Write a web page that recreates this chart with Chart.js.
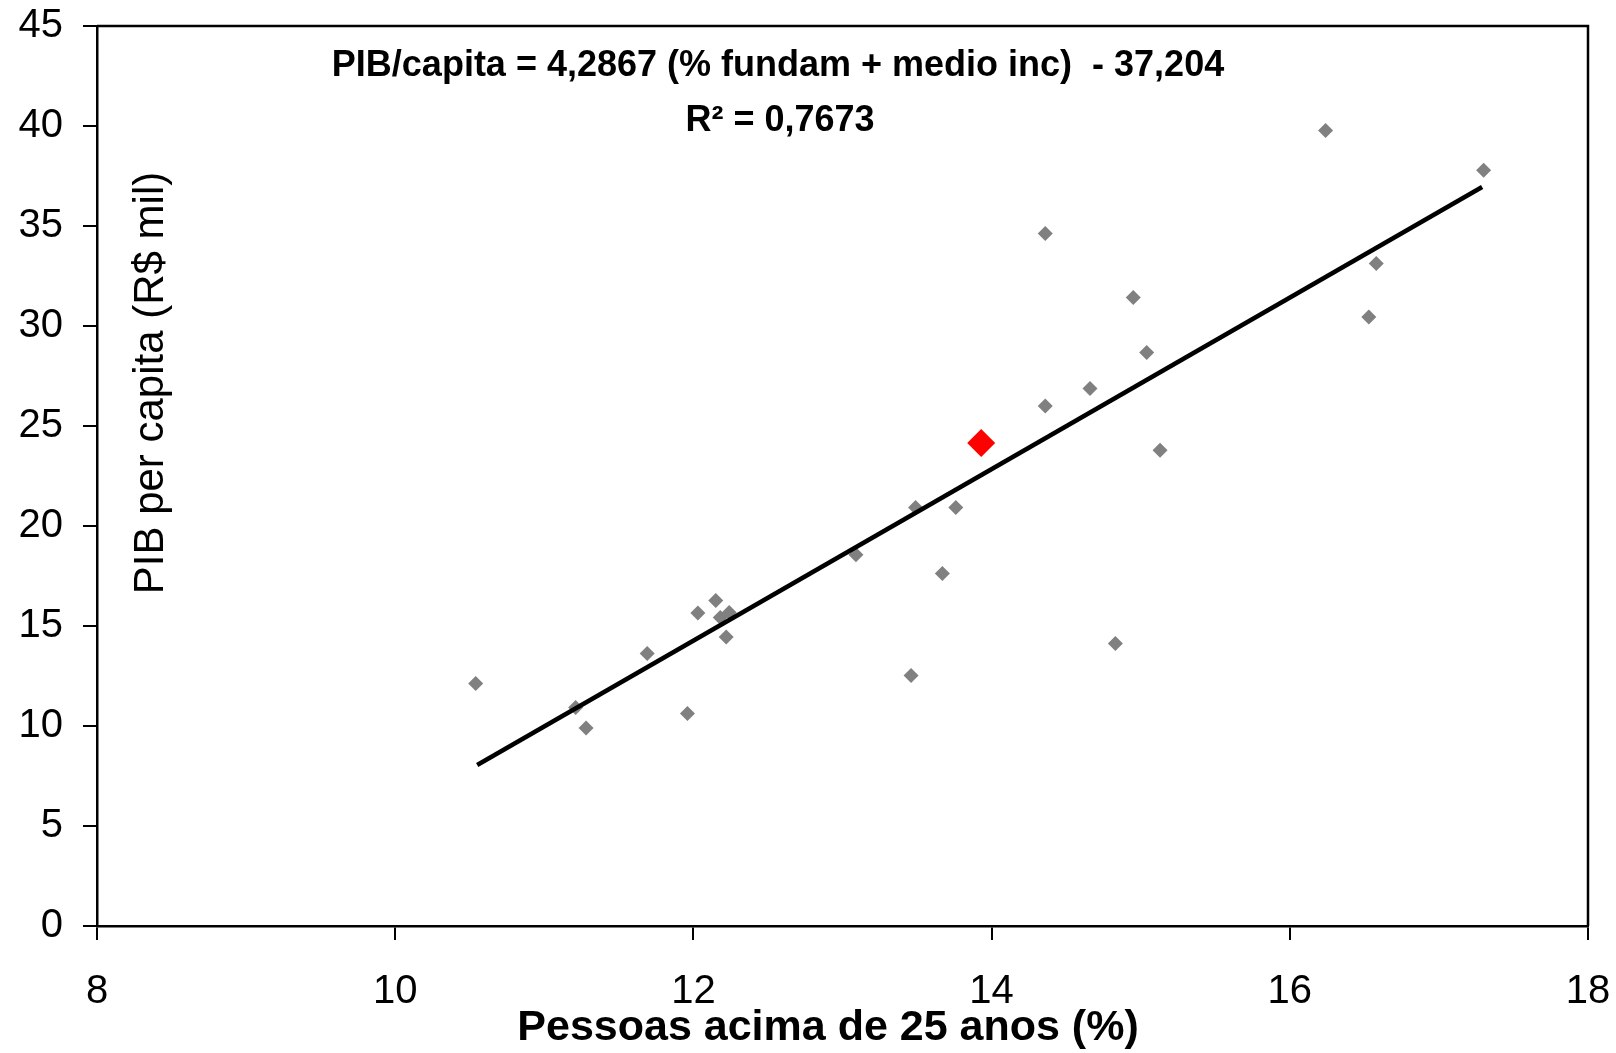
<!DOCTYPE html>
<html>
<head>
<meta charset="utf-8">
<script src="https://cdn.jsdelivr.net/npm/chart.js@4.4.1/dist/chart.umd.min.js"></script>
<style>
  body { margin: 0; background: #fff; }
  #wrap { width: 1616px; height: 1053px; }
</style>
</head>
<body>
<div id="wrap"><canvas id="chart" width="1616" height="1053"></canvas></div>
<script>
// % pessoas acima de 25 anos (fundamental + medio incompleto) x PIB per capita
let pessoasX = [10.54, 11.21, 11.28, 11.69, 11.96, 12.03, 12.15, 12.18, 12.24, 12.22,
                13.09, 13.46, 13.49, 13.67, 13.76, 14.36, 14.36, 14.66, 14.83, 14.95,
                15.04, 15.13, 16.24, 16.53, 16.58, 17.30];
let pibY = [12.12, 10.93, 9.90, 13.62, 10.62, 15.65, 16.27, 15.42, 15.67, 14.45,
            18.56, 12.53, 20.93, 17.63, 20.93, 34.62, 26.00, 26.87, 14.13, 31.42,
            28.67, 23.79, 39.78, 30.45, 33.12, 37.79];

// ponto em destaque (vermelho)
let destaqueX = [13.93];
let destaqueY = [24.15];

// reta de tendencia (extremos)
let trendX = [10.55, 17.29];
let trendY = [8.05, 36.95];

let xTicks = [8, 10, 12, 14, 16, 18];
let yTicks = [0, 5, 10, 15, 20, 25, 30, 35, 40, 45];

let eqLine1 = "PIB/capita = 4,2867 (% fundam + medio inc)  - 37,204";
let eqLine2 = "R\u00B2 = 0,7673";
let xTitle = "Pessoas acima de 25 anos (%)";
let yTitle = "PIB per capita (R$ mil)";

const FONT = "'Liberation Sans', Arial, sans-serif";

function toPoints(xs, ys) {
    return xs.map((x, i) => ({ x: x, y: ys[i] }));
}

// moldura + textos
const textPlugin = {
    id: "textPlugin",
    afterDraw(chart) {
        const ctx = chart.ctx;
        const a = chart.chartArea;
        ctx.save();
        // frame (top & right)
        ctx.strokeStyle = "#000";
        ctx.lineWidth = 2.5;
        ctx.beginPath();
        ctx.moveTo(a.left, a.top);
        ctx.lineTo(a.right, a.top);
        ctx.lineTo(a.right, a.bottom);
        ctx.stroke();

        ctx.fillStyle = "#000";
        ctx.textAlign = "center";
        ctx.textBaseline = "middle";
        ctx.font = "bold 36px " + FONT;
        ctx.fillText(eqLine1, 778, 66);
        ctx.fillText(eqLine2, 780, 121);

        ctx.font = "bold 43px " + FONT;
        ctx.fillText(xTitle, 828, 1028);

        ctx.translate(151, 383);
        ctx.rotate(-Math.PI / 2);
        ctx.font = "42px " + FONT;
        ctx.fillText(yTitle, 0, 0);
        ctx.restore();
    }
};

const ctx = document.getElementById("chart").getContext("2d");
new Chart(ctx, {
    type: "scatter",
    data: {
        datasets: [
            {
                type: "line",
                label: "Tendencia",
                data: toPoints(trendX, trendY),
                borderColor: "#000",
                borderWidth: 4.5,
                pointRadius: 0,
                fill: false
            },
            {
                label: "Destaque",
                data: toPoints(destaqueX, destaqueY),
                pointStyle: "rectRot",
                pointRadius: 14,
                backgroundColor: "#ff0000",
                borderWidth: 0
            },
            {
                label: "Estados",
                data: toPoints(pessoasX, pibY),
                pointStyle: "rectRot",
                pointRadius: 7.5,
                backgroundColor: "#808080",
                borderWidth: 0
            }
        ]
    },
    options: {
        responsive: false,
        devicePixelRatio: 1,
        animation: false,
        layout: { padding: { top: 26, right: 28, left: 0, bottom: 0 } },
        plugins: { legend: { display: false }, tooltip: { enabled: false } },
        scales: {
            x: {
                type: "linear",
                min: 8, max: 18,
                afterBuildTicks: s => { s.ticks = xTicks.map(v => ({ value: v })); },
                afterFit: s => { s.height = 127; s.paddingLeft = 0; s.paddingRight = 0; },
                grid: { drawOnChartArea: false, drawTicks: true, tickLength: 14, color: "#000", lineWidth: 2 },
                border: { display: true, color: "#000", width: 2.5 },
                ticks: { color: "#000", font: { family: FONT, size: 40 }, padding: 28, maxRotation: 0 }
            },
            y: {
                type: "linear",
                min: 0, max: 45,
                afterBuildTicks: s => { s.ticks = yTicks.map(v => ({ value: v })); },
                afterFit: s => { s.width = 97; s.paddingTop = 0; s.paddingBottom = 0; },
                grid: { drawOnChartArea: false, drawTicks: true, tickLength: 14, color: "#000", lineWidth: 2 },
                border: { display: true, color: "#000", width: 2.5 },
                ticks: { color: "#000", font: { family: FONT, size: 40 }, padding: 20 }
            }
        }
    },
    plugins: [textPlugin]
});
</script>
</body>
</html>
